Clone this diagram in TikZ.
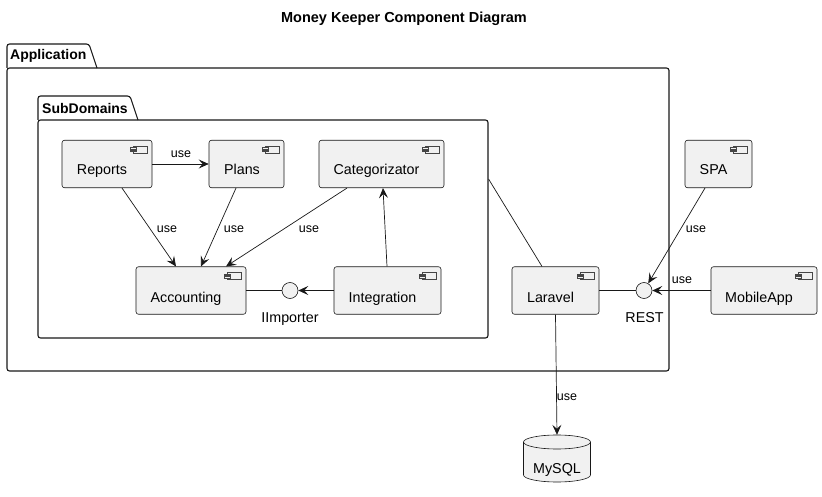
\documentclass[tikz,border=0pt]{standalone}
\usepackage{fontspec}
\setmainfont{Liberation Sans}
\usetikzlibrary{arrows.meta,calc}
\definecolor{cfill}{HTML}{F1F1F1}
\definecolor{cline}{HTML}{181818}
\newcommand{\mkicon}[1]{%
  \draw[icon] ([shift={(-19pt,-6pt)}]#1.north east) rectangle ([shift={(-5pt,-13pt)}]#1.north east);
  \draw[icon] ([shift={(-22pt,-7.5pt)}]#1.north east) rectangle ([shift={(-16pt,-9pt)}]#1.north east);
  \draw[icon] ([shift={(-22pt,-10pt)}]#1.north east) rectangle ([shift={(-16pt,-11.5pt)}]#1.north east);
}
\begin{document}
\begin{tikzpicture}[x=1pt,y=-1pt,
  comp/.style={draw=cline, fill=cfill, line width=0.6pt, rounded corners=2.5pt, inner sep=0pt, minimum height=47.5pt},
  icon/.style={draw=cline!80, fill=cfill, line width=0.35pt},
  ctext/.style={anchor=base, inner sep=0pt, font=\fontsize{14.3}{16}\selectfont, text=black},
  elabel/.style={inner sep=0pt, font=\fontsize{12.5}{14}\selectfont, text=black},
  iface/.style={circle, draw=cline, fill=cfill, line width=0.6pt, minimum size=16pt, inner sep=0pt},
  pkg/.style={draw=cline, line width=1.1pt, rounded corners=2.5pt, inner sep=0pt},
  pkglbl/.style={anchor=west, inner sep=0pt, font=\bfseries\fontsize{14}{16}\selectfont},
  arr/.style={-{Stealth[length=10pt,width=9pt,inset=4pt]}, draw=cline, line width=0.7pt},
  ln/.style={draw=cline, line width=0.7pt}
]
\useasboundingbox (0,0) rectangle (822,497);

% title
\node[font=\bfseries\fontsize{14.5}{16}\selectfont, inner sep=0pt] (title) at (404,19) {Money Keeper Component Diagram};

% Application package
\draw[pkg] (7,68) -- (7,44) -- (89,44) -- (97,68);
\node[pkg, minimum width=662pt, minimum height=303pt] (app) at (338,219.5) {};
\node[pkglbl] (applbl) at (10,56) {Application};

% SubDomains package
\draw[pkg] (38,120) -- (38,96) -- (130,96) -- (138,120);
\node[pkg, minimum width=450pt, minimum height=218pt] (sub) at (263,229) {};
\node[pkglbl] (sublbl) at (42,108) {SubDomains};

% components
\node[comp, minimum width=90pt] (rep) at (107,164) {};
\node[ctext] (repT) at ([shift={(-5pt,-11pt)}]rep.center) {Reports};
\node[comp, minimum width=75pt] (pla) at (246.5,164) {};
\node[ctext] (plaT) at ([shift={(-4.5pt,-11pt)}]pla.center) {Plans};
\node[comp, minimum width=125pt] (cat) at (381.5,164) {};
\node[ctext] (catT) at ([shift={(-5pt,-11pt)}]cat.center) {Categorizator};
\node[comp, minimum width=67pt] (spa) at (718.5,164) {};
\node[ctext] (spaT) at ([shift={(-5pt,-11pt)}]spa.center) {SPA};
\node[comp, minimum width=110pt] (acc) at (191,290.5) {};
\node[ctext] (accT) at ([shift={(-5pt,-11.5pt)}]acc.center) {Accounting};
\node[comp, minimum width=107pt] (int) at (387.5,290.5) {};
\node[ctext] (intT) at ([shift={(-5pt,-11.5pt)}]int.center) {Integration};
\node[comp, minimum width=87pt] (lar) at (555.5,290.5) {};
\node[ctext] (larT) at ([shift={(-5pt,-11.5pt)}]lar.center) {Laravel};
\node[comp, minimum width=106pt] (mob) at (764,290.5) {};
\node[ctext] (mobT) at ([shift={(-5pt,-11.5pt)}]mob.center) {MobileApp};
\mkicon{rep}\mkicon{pla}\mkicon{cat}\mkicon{spa}
\mkicon{acc}\mkicon{int}\mkicon{lar}\mkicon{mob}

% interfaces
\node[iface] (iimp) at (290,290.5) {};
\node[ctext] (iimpT) at (290,322) {IImporter};
\node[iface] (rest) at (644,290.5) {};
\node[ctext] (restT) at (644.5,322) {REST};

% database
\node[inner sep=0pt, minimum width=67pt, minimum height=47pt] (db) at (557,458.5) {};
\path[draw=cline, fill=cfill, line width=0.6pt] (523.5,442) -- (523.5,475) arc (180:360:33.5pt and 7pt) -- (590.5,442) arc (0:180:33.5pt and 7pt) -- cycle;
\draw[cline, line width=0.6pt] (523.5,442) arc (180:360:33.5pt and 7pt);
\node[ctext] (dbT) at (557,473) {MySQL};

% connectors
\draw[arr] (rep) -- (pla);
\draw[arr] ([xshift=15pt]rep.south) -- ([xshift=-15pt]acc.north);
\draw[arr] ([xshift=-10.5pt]pla.south) -- ([xshift=10pt]acc.north);
\draw[arr] ([xshift=-34.5pt]cat.south) -- ([xshift=35pt]acc.north);
\draw[arr] ([xshift=-0.5pt]int.north) -- ([xshift=1.5pt]cat.south);
\draw[arr] (int.west) -- (iimp);
\draw[ln] (acc.east) -- (iimp);
\draw[ln] ([yshift=50pt]sub.east) -- ([xshift=-13.5pt]lar.north);
\draw[ln] (lar.east) -- (rest);
\draw[arr] ([xshift=-13.5pt]spa.south) -- (rest);
\draw[arr] (mob.west) -- (rest);
\draw[arr] (lar.south) -- (db.north);

% edge labels
\node[elabel] (l1) at (181,154) {use};
\node[elabel] (l2) at (167,229) {use};
\node[elabel] (l3) at (234,229) {use};
\node[elabel] (l4) at (309,229) {use};
\node[elabel] (l5) at (696,229) {use};
\node[elabel] (l6) at (682,280) {use};
\node[elabel] (l7) at (567,397) {use};
\end{tikzpicture}
\end{document}
